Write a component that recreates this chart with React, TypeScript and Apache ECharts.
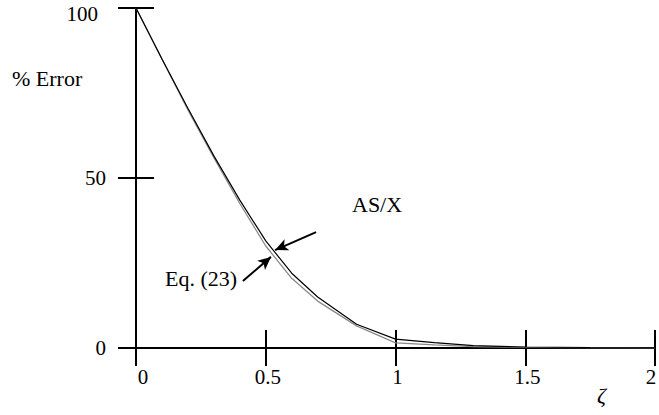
import React, { useEffect, useRef } from "react";
import * as echarts from "echarts";

const zeta = [0, 0.1, 0.2, 0.3, 0.4, 0.5, 0.6, 0.7, 0.85, 1.0, 1.15, 1.3, 1.5, 1.75, 2.0];
const asxError = [100, 85, 70.5, 56.5, 43.5, 31.5, 22, 15, 7, 2.6, 1.6, 0.7, 0.3, 0.15, 0.05];
const eq23Error = [100, 85, 70, 56, 42.5, 30, 20.5, 13.8, 6.5, 1.5, 0.9, 0.4, 0.2, 0.1, 0.05];
const xTicks = [0, 0.5, 1, 1.5, 2];
const yTicks = [0, 50, 100];
const asxArrow = [[0.694, 34.1], [0.536, 28.8]];
const eqArrow = [[0.412, 19.7], [0.52, 26.8]];

const FONT = "Liberation Serif, Times New Roman, serif";

export default function App() {
  const ref = useRef<HTMLDivElement>(null);
  useEffect(() => {
    if (!ref.current) return;
    const chart = echarts.init(ref.current, undefined, { renderer: "svg" });
    const axisLine = { show: true, lineStyle: { color: "#000", width: 2 } };
    const tickIn = { show: true, inside: true, length: 18, lineStyle: { color: "#000", width: 2 } };
    const txt = { fontFamily: FONT, fontSize: 21, color: "#000" };
    const arrowLine = (pts: number[][]) => ({
      silent: true,
      symbol: ["none", "arrow"],
      symbolSize: [9, 13],
      label: { show: false },
      lineStyle: { color: "#000", width: 2, type: "solid" },
      data: [[{ coord: pts[0] }, { coord: pts[1] }]],
    });
    const xMin = xTicks[0];
    const xMax = xTicks[xTicks.length - 1];
    chart.setOption({
      animation: false,
      backgroundColor: "#fff",
      grid: { left: 136, right: 4, top: 8, bottom: 67, outerBoundsMode: "none", containLabel: false },
      xAxis: [
        {
          type: "value",
          min: xMin,
          max: xMax,
          interval: 0.5,
          position: "bottom",
          axisLine,
          axisTick: tickIn,
          splitLine: { show: false },
          axisLabel: {
            margin: 18,
            ...txt,
            formatter: (v: number) =>
              v === xMin ? `{z|${v}}` : v === xMax ? `{m|${v}}` : `{n|${v}}`,
            rich: {
              z: { ...txt, padding: [0, 0, 0, 14] },
              m: { ...txt, padding: [0, 8, 0, 0] },
              n: { ...txt, padding: [0, 0, 0, 4] },
            },
          },
        },
        {
          type: "value",
          min: xMin,
          max: xMax,
          interval: 0.5,
          position: "top",
          axisLine,
          axisTick: tickIn,
          splitLine: { show: false },
          axisLabel: { show: false },
        },
      ],
      yAxis: [
        {
          type: "value",
          min: yTicks[0],
          max: yTicks[yTicks.length - 1],
          interval: 50,
          position: "left",
          axisLine,
          axisTick: tickIn,
          splitLine: { show: false },
          axisLabel: {
            margin: 30,
            ...txt,
            formatter: (v: number) => (v === yTicks[yTicks.length - 1] ? `{t|${v}}` : `{n|${v}}`),
            rich: { t: { ...txt, padding: [12, 8, 0, 0] }, n: { ...txt } },
          },
        },
        {
          type: "value",
          min: yTicks[0],
          max: yTicks[yTicks.length - 1],
          interval: 50,
          position: "right",
          axisLine,
          axisTick: tickIn,
          splitLine: { show: false },
          axisLabel: { show: false },
        },
      ],
      series: [
        {
          name: "Eq. (23)",
          type: "line",
          data: zeta.map((z, i) => [z, eq23Error[i]]),
          showSymbol: false,
          smooth: false,
          lineStyle: { color: "#8a8a8a", width: 1.3 },
          markLine: arrowLine(eqArrow),
        },
        {
          name: "AS/X",
          type: "line",
          data: zeta.map((z, i) => [z, asxError[i]]),
          showSymbol: false,
          smooth: false,
          lineStyle: { color: "#000", width: 1.2 },
          markLine: arrowLine(asxArrow),
        },
      ],
      graphic: [
        { type: "text", left: 12, top: 67, style: { text: "% Error", font: `22px ${FONT}`, fill: "#000" } },
        { type: "text", left: 352, top: 193, style: { text: "AS/X", font: `22px ${FONT}`, fill: "#000" } },
        { type: "text", left: 165, top: 267, style: { text: "Eq. (23)", font: `22px ${FONT}`, fill: "#000" } },
        { type: "text", left: 597, top: 384, style: { text: "ζ", font: `italic 22px ${FONT}`, fill: "#000" } },
      ],
    });
    return () => chart.dispose();
  }, []);
  return (
    <div
      ref={ref}
      style={{ position: "fixed", left: 0, top: 0, width: 659, height: 415, background: "#fff" }}
    />
  );
}
